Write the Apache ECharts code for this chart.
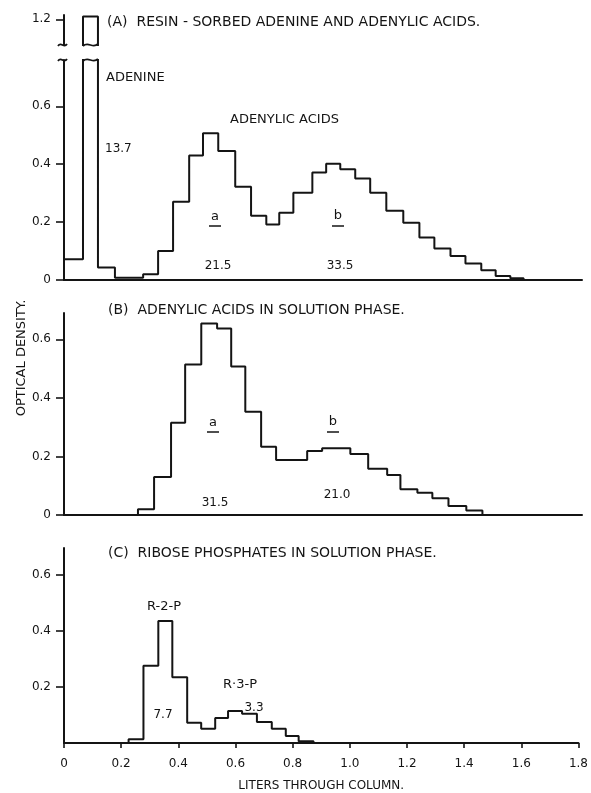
<!DOCTYPE html>
<html>
<head>
<meta charset="utf-8">
<script src="https://cdn.jsdelivr.net/npm/echarts@6/dist/echarts.min.js"></script>
<style>
html, body { margin: 0; padding: 0; background: #fff; }
#chart { width: 591px; height: 793px; }
</style>
</head>
<body>
<div id="chart"></div>
<script>
// fraction edges (liters through column) and optical density of each fraction
// (A) resin-sorbed adenine and adenylic acids
const edgesA = [0, 0.066, 0.118, 0.177, 0.275, 0.327, 0.379, 0.435, 0.483, 0.536, 0.595, 0.650, 0.703, 0.748,
  0.797, 0.863, 0.911, 0.960, 1.012, 1.064, 1.120, 1.179, 1.235, 1.287, 1.343, 1.395, 1.450, 1.500, 1.551, 1.597];
const valuesA = [0.072, 1.21, 0.043, 0.008, 0.02, 0.10, 0.27, 0.43, 0.507, 0.446, 0.322, 0.222, 0.192, 0.232,
  0.301, 0.371, 0.402, 0.383, 0.351, 0.301, 0.239, 0.198, 0.147, 0.109, 0.083, 0.057, 0.034, 0.014, 0.006];
// (B) adenylic acids in solution phase
const edgesB = [0.257, 0.313, 0.372, 0.421, 0.477, 0.532, 0.581, 0.630, 0.685, 0.737, 0.845, 0.897, 0.995,
  1.057, 1.123, 1.169, 1.228, 1.280, 1.336, 1.398, 1.454];
const valuesB = [0.02, 0.13, 0.315, 0.514, 0.654, 0.637, 0.507, 0.353, 0.233, 0.188, 0.219, 0.228, 0.208,
  0.158, 0.137, 0.088, 0.076, 0.057, 0.031, 0.015];
// (C) ribose phosphates in solution phase
const edgesC = [0.226, 0.278, 0.330, 0.379, 0.431, 0.480, 0.529, 0.574, 0.623, 0.675, 0.727, 0.776, 0.821, 0.873];
const valuesC = [0.013, 0.275, 0.435, 0.234, 0.072, 0.051, 0.089, 0.114, 0.104, 0.075, 0.051, 0.025, 0.006];

// tick values
const xTicks = [0, 0.2, 0.4, 0.6, 0.8, 1.0, 1.2, 1.4, 1.6, 1.8];
const yTicksTop = [1.2];
const yTicksA = [0, 0.2, 0.4, 0.6];
const yTicksB = [0, 0.2, 0.4, 0.6];
const yTicksC = [0.2, 0.4, 0.6];

const ink = '#141414';
const font = 'DejaVu Sans';

// step data: each value holds from its edge to the next edge
function steps(edges, values) {
  const d = [];
  if (edges[0] > 0) d.push([0, 0]);
  for (let i = 0; i < values.length; i++) d.push([edges[i], values[i]]);
  d.push([edges[edges.length - 1], 0]);
  return d;
}

const fmt = v => (v === 0 ? '0' : v.toFixed(1));

function yAxis(idx, min, max, ticks) {
  return {
    type: 'value', gridIndex: idx, min: min, max: max,
    axisLine: { show: true, lineStyle: { color: ink, width: 2 } },
    axisTick: { show: true, length: 8, customValues: ticks, lineStyle: { color: ink, width: 1.6 } },
    axisLabel: { margin: 13, customValues: ticks, color: ink, fontFamily: font, fontSize: 12, formatter: fmt },
    splitLine: { show: false }
  };
}

function xAxis(idx, full) {
  return {
    type: 'value', gridIndex: idx, min: 0, max: 1.8, show: idx !== 0,
    axisLine: { show: true, onZero: false, lineStyle: { color: ink, width: 2 } },
    axisTick: { show: full, length: 5, customValues: xTicks, lineStyle: { color: ink, width: 1.6 } },
    axisLabel: { show: full, margin: 15, customValues: xTicks, color: ink, fontFamily: font, fontSize: 12, formatter: fmt },
    splitLine: { show: false },
    name: full ? 'LITERS THROUGH COLUMN.' : '',
    nameLocation: 'middle', nameGap: 37,
    nameTextStyle: { color: ink, fontFamily: font, fontSize: 12 }
  };
}

function stepSeries(idx, data) {
  return {
    type: 'line', xAxisIndex: idx, yAxisIndex: idx, data: data, step: 'end',
    symbol: 'none', clip: true, animation: false,
    lineStyle: { color: ink, width: 2 }
  };
}

function label(text, x, y, size, align) {
  return {
    type: 'text', x: x, y: y,
    style: { text: text, fill: ink, font: (size || 12) + 'px "' + font + '"',
      textAlign: align || 'center', textVerticalAlign: 'middle', align: align || 'center', verticalAlign: 'middle' }
  };
}

function underline(x, y) {
  return { type: 'line', shape: { x1: x - 6, y1: y, x2: x + 6, y2: y }, style: { stroke: ink, lineWidth: 1.5 } };
}

// small wavy stroke marking the broken scale
function squiggle(x1, x2, y) {
  const w = x2 - x1;
  return {
    type: 'bezierCurve',
    shape: { x1: x1, y1: y + 1, cpx1: x1 + w * 0.35, cpy1: y - 4, cpx2: x1 + w * 0.65, cpy2: y + 4, x2: x2, y2: y - 1 },
    style: { stroke: ink, lineWidth: 1.8, fill: null }
  };
}

const dataA = steps(edgesA, valuesA);

const option = {
  backgroundColor: '#fff',
  animation: false,
  grid: [
    { left: 64, width: 518, top: 15, height: 30 },
    { left: 64, width: 518, top: 60, height: 220 },
    { left: 64, width: 518, top: 313, height: 202 },
    { left: 64, width: 518, top: 548, height: 203 }
  ],
  xAxis: [xAxis(0, false), xAxis(1, false), xAxis(2, false), xAxis(3, true)],
  yAxis: [
    yAxis(0, 1.11, 1.215, yTicksTop),
    yAxis(1, 0, 0.76, yTicksA),
    yAxis(2, 0, 0.69, yTicksB),
    yAxis(3, 0, 0.695, yTicksC)
  ],
  series: [
    stepSeries(0, dataA),
    stepSeries(1, dataA),
    stepSeries(2, steps(edgesB, valuesB)),
    stepSeries(3, steps(edgesC, valuesC))
  ],
  graphic: [
    label('(A)  RESIN - SORBED ADENINE AND ADENYLIC ACIDS.', 107, 22, 14, 'left'),
    label('ADENINE', 106, 78, 13, 'left'),
    label('13.7', 105, 149, 12, 'left'),
    label('ADENYLIC ACIDS', 230, 120, 13, 'left'),
    label('a', 215, 217, 13),
    underline(215, 226),
    label('21.5', 218, 266, 12),
    label('b', 338, 216, 13),
    underline(338, 226),
    label('33.5', 340, 266, 12),

    label('(B)  ADENYLIC ACIDS IN SOLUTION PHASE.', 108, 310, 14, 'left'),
    label('a', 213, 423, 13),
    underline(213, 432),
    label('31.5', 215, 503, 12),
    label('b', 333, 422, 13),
    underline(333, 432),
    label('21.0', 337, 495, 12),

    label('(C)  RIBOSE PHOSPHATES IN SOLUTION PHASE.', 108, 553, 14, 'left'),
    label('R-2-P', 164, 607, 13),
    label('7.7', 163, 715, 12),
    label('R·3-P', 240, 685, 13),
    label('3.3', 254, 708, 12),

    {
      type: 'text', x: 22, y: 358, rotation: Math.PI / 2,
      style: { text: 'OPTICAL DENSITY.', fill: ink, font: '13px "' + font + '"',
        textAlign: 'center', textVerticalAlign: 'middle', align: 'center', verticalAlign: 'middle' }
    }
  ]
};

const chart = echarts.init(document.getElementById('chart'));
chart.setOption(option);

// break marks on the axis and across the adenine bar, placed from the axes
const barL = chart.convertToPixel({ gridIndex: 1 }, [edgesA[1], 0])[0];
const barR = chart.convertToPixel({ gridIndex: 1 }, [edgesA[2], 0])[0];
const axisX = chart.convertToPixel({ gridIndex: 1 }, [0, 0])[0];
const cutLow = chart.convertToPixel({ gridIndex: 0 }, [0, 1.11])[1];
const cutHigh = chart.convertToPixel({ gridIndex: 1 }, [0, 0.76])[1];
chart.setOption({
  graphic: option.graphic.concat([
    squiggle(axisX - 6, axisX + 3, cutLow),
    squiggle(axisX - 6, axisX + 3, cutHigh),
    squiggle(barL, barR, cutLow),
    squiggle(barL, barR, cutHigh)
  ])
});
</script>
</body>
</html>
